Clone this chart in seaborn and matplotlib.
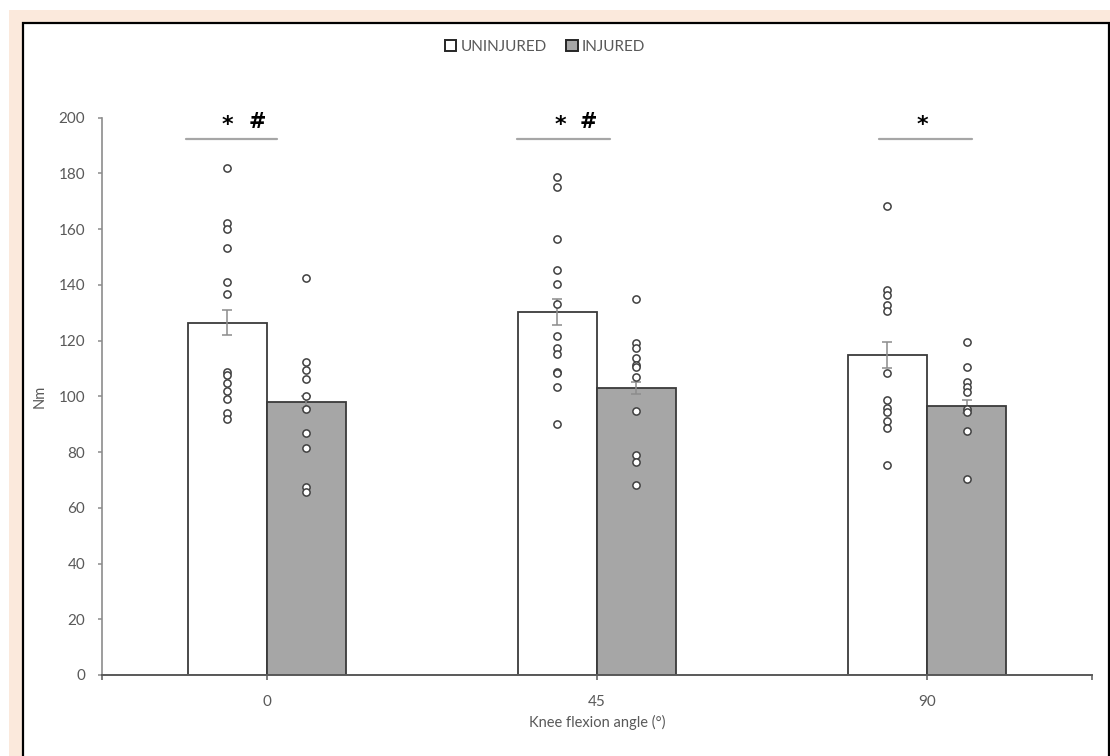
import numpy as np
import pandas as pd
import matplotlib
matplotlib.use("Agg")
import matplotlib.pyplot as plt
from matplotlib.patches import Rectangle, Patch
import seaborn as sns

# ---- data -------------------------------------------------------------
angles = ["0", "45", "90"]
groups = ["UNINJURED", "INJURED"]

mean_uninjured = [126.4, 130.3, 114.9]
mean_injured = [97.9, 102.9, 96.4]
se_uninjured = [4.5, 4.6, 4.6]
se_injured = [2.1, 2.1, 2.2]

uninjured_0 = [182.0, 162.2, 160.0, 153.2, 141.2, 136.6, 108.9, 107.7, 104.7, 102.0, 99.0, 94.0, 91.8]
injured_0 = [142.4, 112.5, 109.5, 106.4, 100.3, 95.5, 86.8, 81.5, 67.6, 65.6]
uninjured_45 = [178.7, 175.1, 156.4, 145.3, 140.3, 133.1, 121.5, 117.5, 115.3, 108.9, 108.3, 103.4, 90.1]
injured_45 = [135.1, 119.1, 117.3, 113.7, 111.3, 110.7, 106.9, 94.8, 79.0, 76.4, 68.2]
uninjured_90 = [168.2, 138.0, 136.4, 132.9, 130.6, 108.3, 98.7, 95.8, 94.5, 91.0, 88.6, 75.4]
injured_90 = [119.5, 110.4, 105.3, 103.3, 101.5, 95.4, 94.5, 87.7, 70.4]

significance = ["* #", "* #", "*"]
yticks = [0, 20, 40, 60, 80, 100, 120, 140, 160, 180, 200]

# ---- tables -----------------------------------------------------------
means = pd.DataFrame({
    "angle": angles * 2,
    "group": [groups[0]] * 3 + [groups[1]] * 3,
    "Nm": mean_uninjured + mean_injured,
})
points = {
    groups[0]: [uninjured_0, uninjured_45, uninjured_90],
    groups[1]: [injured_0, injured_45, injured_90],
}
errors = {groups[0]: (mean_uninjured, se_uninjured),
          groups[1]: (mean_injured, se_injured)}

# ---- style ------------------------------------------------------------
sns.set_style("white")
plt.rcParams["font.family"] = ["Lato", "DejaVu Sans"]
text_grey = "#595959"
fills = {groups[0]: "#ffffff", groups[1]: "#a6a6a6"}

W, H = 1110, 756
fig = plt.figure(figsize=(W / 100, H / 100), dpi=100)
fig.patch.set_facecolor("white")

# page background and frame
fig.patches.append(Rectangle((9 / W, 0), 1 - 9 / W, 1 - 10 / H, transform=fig.transFigure,
                             facecolor="#fbe9dc", edgecolor="none", zorder=-5))
fig.patches.append(Rectangle((23 / W, -0.02), (1109 - 23) / W, 1 - 23 / H + 0.02,
                             transform=fig.transFigure, facecolor="white",
                             edgecolor="black", linewidth=1.6, zorder=-4))

ax = fig.add_axes([101.7 / W, 81 / H, (1092 - 101.7) / W, (675 - 117.7) / H])
ax.patch.set_alpha(0)

sns.barplot(data=means, x="angle", y="Nm", hue="group", order=angles, hue_order=groups,
            palette=fills, width=0.48, edgecolor="#3a3a3a", linewidth=1.3,
            errorbar=None, legend=False, ax=ax, zorder=2)

# error bars and individual values at the bar centres
for container, g in zip(ax.containers, groups):
    xs = [p.get_x() + p.get_width() / 2 for p in container]
    m, se = errors[g]
    ax.errorbar(xs, m, yerr=se, fmt="none", ecolor="#8c8c8c", elinewidth=1.1,
                capsize=3.6, capthick=1.1, zorder=3)
    for x, vals in zip(xs, points[g]):
        ax.scatter([x] * len(vals), vals, s=27, facecolor="white", edgecolor="#404040",
                   linewidth=1.1, zorder=4, clip_on=False)

# significance markers
line_spans = [(-0.245, 0.03), (-0.242, 0.039), (-0.144, 0.135)]
mark_x = [(-0.119, -0.03), (-0.11, -0.025), (-0.013,)]
for i, (span, sig, mx) in enumerate(zip(line_spans, significance, mark_x)):
    ax.plot([i + span[0], i + span[1]], [192.5, 192.5], color="#a6a6a6", lw=1.6,
            clip_on=False, zorder=3)
    for sym, x in zip(sig.split(), mx):
        if sym == "*":
            ax.text(i + x, 197.3, sym, ha="center", va="center", fontsize=16,
                    fontweight="bold", family="DejaVu Sans", color="black", clip_on=False)
        else:
            ax.text(i + x, 198.6, sym, ha="center", va="center", fontsize=15,
                    fontweight="bold", family="DejaVu Sans", color="black", clip_on=False)

# axes
ax.set_xlim(-0.5, 2.5)
ax.set_ylim(0, 200)
ax.set_yticks(yticks)
ax.set_xticks(range(len(angles)))
ax.set_xticklabels(angles)
ax.set_xticks([-0.5, 2.5], minor=True)
for s in ["top", "right"]:
    ax.spines[s].set_visible(False)
ax.spines["left"].set_color("#8c8c8c")
ax.spines["left"].set_linewidth(1.2)
ax.spines["bottom"].set_color("#595959")
ax.spines["bottom"].set_linewidth(1.4)
ax.tick_params(axis="y", which="major", direction="out", length=3, width=1.1,
               color="#8c8c8c", labelsize=11, labelcolor=text_grey, pad=9, left=True)
ax.tick_params(axis="x", which="both", direction="out", length=3.5, width=1.1,
               color="#595959", labelsize=11, labelcolor=text_grey, pad=11, bottom=True)

ax.set_ylabel("Nm", fontsize=10.5, color=text_grey)
ax.yaxis.set_label_coords(-0.056, 0.5)
ax.set_xlabel("Knee flexion angle (°)", fontsize=10.5, color=text_grey)
ax.xaxis.set_label_coords(0.5, -0.072)

handles = [Patch(facecolor=fills[g], edgecolor="#262626", linewidth=1.4, label=g) for g in groups]
fig.legend(handles=handles, loc="center", bbox_to_anchor=(545 / W, 1 - 47 / H), ncol=2,
           frameon=False, fontsize=11, labelcolor=text_grey, handlelength=0.75,
           handleheight=0.75, handletextpad=0.25, columnspacing=1.3)

fig.savefig("out.png", dpi=100)
